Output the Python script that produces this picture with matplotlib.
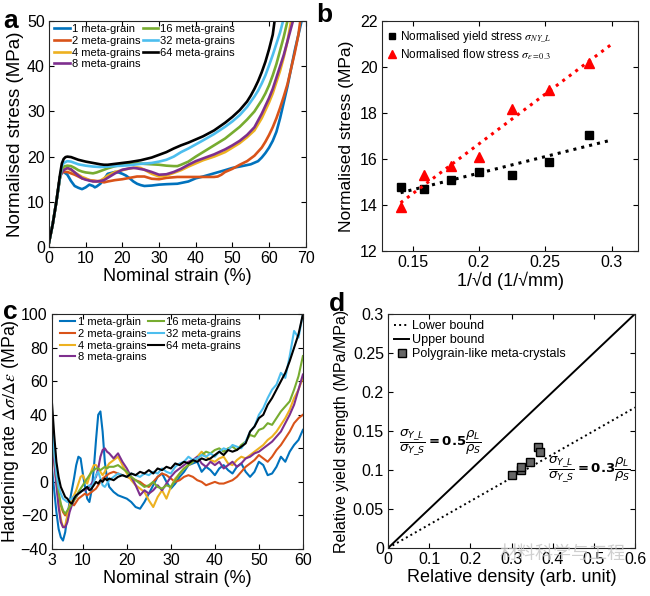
import matplotlib
matplotlib.use("Agg")
import matplotlib.pyplot as plt
import numpy as np

plt.rcParams["font.family"] = ["Liberation Sans", "DejaVu Sans"]
plt.rcParams["mathtext.fontset"] = "stix"

COLORS = ["#0072BD", "#D95319", "#EDB120", "#7E2F8E", "#77AC30", "#4DBEEE", "#000000"]
LABELS = ["1 meta-grain", "2 meta-grains", "4 meta-grains", "8 meta-grains",
          "16 meta-grains", "32 meta-grains", "64 meta-grains"]

# ---- panel a: stress-strain curves ----
a_x_1 = [0, 1, 2, 3, 3.5, 4, 5, 6, 7, 8, 9, 10, 11, 12, 12.5, 13, 14, 15, 16, 17, 18, 19, 20, 21, 22, 23, 24,
         25, 26, 28, 30, 32, 35, 38, 40, 42, 45, 48, 50, 52, 55, 57, 58, 59, 60, 61, 62, 63, 64, 65, 66, 67, 68, 69]
a_y_1 = [1, 5, 10, 15.5, 16.8, 16.6, 16, 14.6, 13.5, 13.1, 12.8, 13.2, 13.8, 13.5, 13.2, 13.4, 14, 15, 16.2, 16.4, 16.6, 16.5, 16.2, 15.8, 15.2, 14.5, 14,
         13.7, 13.5, 13.6, 13.8, 13.9, 14, 14.5, 15.2, 15.6, 16.3, 17, 17.5, 17.8, 18.3, 19, 19.8, 20.8, 22, 23.5, 25.5, 28.5, 32, 35.5, 39.5, 43.5, 47, 50.5]
a_x_2 = [0, 1, 2, 3, 3.5, 4, 5, 6, 7, 8, 9, 10, 11, 12, 13, 14, 15, 16, 18, 20, 22, 24, 26, 28, 30, 32, 35, 38,
         40, 42, 45, 46, 47, 48, 50, 52, 54, 56, 58, 59, 60, 61, 62, 63, 64, 65, 66, 67, 68, 68.5]
a_y_2 = [1, 5, 10, 15.5, 16.5, 16.6, 16.6, 16.3, 16, 15.6, 15.2, 15, 14.8, 14.7, 14.6, 14.5, 14.3, 14.5, 14.8, 15, 15.3, 15.6, 15.6, 15.1, 15, 15.3, 15.5, 15.5,
         15.5, 15.5, 15.5, 15.6, 16, 16.6, 17.3, 18.2, 19, 20.2, 22, 23.3, 24.8, 26.5, 28.5, 30.8, 33.3, 36, 39.5, 43, 47, 50]
a_x_4 = [0, 1, 2, 3, 3.5, 4, 5, 6, 7, 8, 9, 10, 11, 12, 13, 14, 15, 16, 18, 20, 22, 24, 25, 26, 28, 30, 32, 34,
         36, 38, 40, 42, 45, 48, 50, 52, 54, 56, 58, 60, 61, 62, 63, 64, 65, 66]
a_y_4 = [1, 5, 10, 15.5, 17, 17.3, 17.4, 17, 16.5, 16, 15.5, 15.2, 14.8, 14.6, 14.5, 14.7, 15.2, 15.8, 16.6, 17, 17.4, 17.6, 17.5, 17.1, 16.2, 15.6, 15.8, 16.4,
         17, 17.8, 18.5, 19.2, 20, 21, 22, 23, 24.3, 25.8, 28.5, 32, 34, 36.5, 39, 42, 45.5, 50]
a_x_8 = [0, 1, 2, 3, 3.5, 4, 5, 6, 7, 8, 9, 10, 11, 12, 13, 14, 15, 16, 17, 18, 20, 22, 23, 24, 26, 28, 30, 32,
         34, 36, 38, 40, 42, 45, 48, 50, 52, 54, 56, 58, 60, 61, 62, 63, 64, 65, 66, 66.5]
a_y_8 = [1, 5, 10, 15.5, 16.5, 17, 17.5, 17.2, 16.5, 15.8, 15.2, 14.9, 14.7, 14.5, 14.5, 14.6, 14.8, 15.3, 15.8, 16.3, 17.1, 17.4, 17.5, 17.4, 17.1, 16.6, 16, 16.1,
         16.6, 17.3, 18.2, 19, 19.6, 20.5, 21.6, 22.5, 23.5, 24.8, 26.5, 29.5, 33, 35, 37.5, 40, 42.5, 45.5, 48.5, 50]
a_x_16 = [0, 1, 2, 3, 3.5, 4, 5, 6, 7, 8, 9, 10, 11, 12, 13, 14, 15, 16, 18, 20, 22, 24, 26, 28, 30, 32, 34, 35,
          36, 38, 40, 42, 45, 48, 50, 52, 54, 56, 58, 59, 60, 61, 62, 63, 64, 65]
a_y_16 = [1, 5, 10, 15.5, 17.3, 17.8, 18, 17.9, 17.5, 17, 16.7, 16.5, 16.4, 16.3, 16.5, 16.8, 17.1, 17.4, 17.9, 18.2, 18.4, 18.5, 18.4, 18.3, 18.2, 18, 17.9, 17.9,
          18.2, 18.9, 20, 21, 22.5, 24, 25.3, 26.6, 28.2, 30, 32.5, 34, 35.8, 38, 40.5, 43.5, 46.5, 50]
a_x_32 = [0, 1, 2, 3, 3.5, 4, 5, 6, 7, 8, 10, 12, 14, 16, 18, 20, 22, 25, 28, 30, 32, 34, 36, 38, 40,
          42, 45, 48, 50, 52, 54, 56, 57, 58, 59, 60, 61, 62, 63, 63.8]
a_y_32 = [1, 5, 10, 15.5, 17.8, 18.6, 19, 18.9, 18.6, 18.3, 18, 17.8, 17.7, 17.8, 17.9, 18, 18.1, 18.4, 18.6, 18.9, 19.3, 20, 21, 21.8, 22.7,
          23.6, 25, 26.6, 27.8, 29.2, 31, 33.3, 34.6, 36.2, 38, 40.2, 42.5, 45, 47.5, 50]
a_x_64 = [0, 1, 2, 3, 3.5, 4, 4.5, 5, 6, 7, 8, 10, 12, 14, 15, 16, 18, 20, 22, 25, 28, 30, 32, 34, 36, 38, 40,
          42, 45, 48, 50, 52, 54, 55, 56, 57, 58, 59, 60, 61, 61.5]
a_y_64 = [1, 5, 10, 16, 18.5, 19.5, 19.9, 20, 19.9, 19.6, 19.3, 18.9, 18.6, 18.3, 18.2, 18.2, 18.4, 18.6, 18.8, 19.2, 19.8, 20.4, 21, 21.8, 22.5, 23.1, 23.8,
          24.5, 25.8, 27.5, 28.8, 30.3, 32.2, 33.5, 35, 36.7, 38.7, 41, 43.8, 47, 50]

a_x = [a_x_1, a_x_2, a_x_4, a_x_8, a_x_16, a_x_32, a_x_64]
a_y = [a_y_1, a_y_2, a_y_4, a_y_8, a_y_16, a_y_32, a_y_64]

# ---- panel b: stress vs 1/sqrt(d) ----
b_inv_sqrt_d = [0.141, 0.159, 0.179, 0.200, 0.225, 0.253, 0.283]
b_yield = [14.8, 14.7, 15.1, 15.45, 15.3, 15.85, 17.05]
b_flow = [13.9, 15.3, 15.7, 16.1, 18.15, 19.0, 20.15]
b_fit_x = [0.141, 0.3]

# ---- panel c: hardening rate ----
c_strain = [3, 3.5, 4, 4.5, 5, 5.5, 6, 6.5, 7, 7.5, 8, 8.5, 9, 9.5, 10, 10.5, 11, 11.5, 12, 12.5, 13, 13.5,
            14, 14.5, 15, 15.5, 16, 17, 18, 19, 20, 21, 22, 23, 24, 25, 26, 27, 28, 29, 30, 31, 32, 33, 34,
            35, 36, 37, 38, 39, 40, 41, 42, 43, 44, 45, 46, 47, 48, 49, 50, 51, 52, 53, 54, 55, 56, 57, 58, 59, 60]
c_1 = [8, -5, -18, -28, -33, -35, -30, -20, -12, -5, 2, 10, 15, 14, 5, -3, -10, -12, -5, 8, 25, 40,
       42, 30, 12, 2, -3, -6, -8, -9, -10, -12, -15, -16, -12, -7, -2, 3, 5, 0, -4, -1, 3, 6, 10,
       11, 12, 6, 9, 7, 4, 8, 10, 7, 5, 9, 11, 6, 3, 6, 12, 10, 4, 5, 9, 15, 12, 18, 22, 25, 31]
c_2 = [25, 12, 0, -8, -14, -18, -20, -18, -15, -13, -14, -12, -10, -9, -8, -7, -8, -7, -6, -5, -4, -2,
       0, 2, 3, 4, 5, 6, 5, 4, 3, 2, 1, 0, -2, -3, 0, 3, 5, 4, 2, 0, 1, 3, 4,
       3, 1, 0, -2, -1, 0, -1, -1, 0, 1, 3, 6, 9, 11, 13, 16, 14, 12, 15, 19, 22, 26, 30, 35, 38, 40]
c_4 = [30, 15, 0, -12, -22, -27, -26, -20, -14, -10, -8, -5, -1, 3, 4, 1, -1, 3, 7, 10, 10, 8,
       6, 4, 6, 9, 11, 13, 15, 10, 5, 1, -2, -4, -6, -11, -15, -9, -5, -10, -3, 2, 5, 8, 10,
       12, 15, 18, 15, 13, 12, 14, 15, 11, 10, 13, 15, 14, 16, 18, 20, 22, 25, 27, 30, 34, 38, 43, 50, 55, 62]
c_8 = [30, 12, -2, -15, -24, -27, -27, -24, -18, -14, -11, -9, -7, -6, -5, -5, -4, -3, -1, 1, 3, 8,
       15, 19, 20, 18, 17, 14, 17, 12, 8, 3, -2, -8, -5, -7, -5, -2, -5, -1, 3, 6, 8, 10, 12,
       13, 15, 11, 9, 12, 10, 12, 8, 10, 12, 9, 11, 14, 15, 17, 18, 20, 22, 24, 27, 30, 35, 40, 46, 55, 64]
c_16 = [35, 18, 5, -6, -13, -17, -19, -17, -15, -13, -11, -9, -6, -4, -2, 0, 2, 4, 6, 7, 8, 8,
        7, 8, 9, 8, 9, 9, 10, 8, 6, 3, 1, -1, -3, -2, 0, -3, -4, -2, -3, 1, 5, 8, 10,
        12, 14, 16, 18, 17, 19, 20, 18, 20, 21, 19, 22, 24, 28, 27, 31, 32, 35, 34, 38, 42, 45, 48, 55, 63, 75]
c_32 = [40, 18, 5, -3, -7, -10, -11, -12, -11, -10, -9, -8, -7, -6, -5, -4, -3, -2, -3, 0, 4, 6,
        2, -2, -3, -1, 1, 3, 5, 4, 3, 5, 4, 3, 5, 4, 6, 5, 8, 6, 5, 9, 11, 12, 15,
        13, 14, 16, 15, 17, 15, 18, 20, 19, 22, 21, 20, 24, 30, 33, 40, 44, 50, 55, 58, 65, 62, 75, 90, 86, 100]
c_64 = [47, 28, 12, 3, -3, -6, -9, -10, -12, -13, -10, -8, -7, -6, -5, -4, -3, -5, -4, -2, 0, -1,
        1, 0, 2, 1, 2, 1, 3, 4, 3, 5, 4, 6, 5, 7, 5, 8, 7, 9, 8, 11, 10, 12, 11,
        13, 12, 14, 13, 14, 16, 18, 16, 19, 18, 19, 21, 23, 30, 33, 38, 40, 46, 50, 55, 60, 65, 72, 80, 88, 100]
c_y = [c_1, c_2, c_4, c_8, c_16, c_32, c_64]

# ---- panel d: relative yield strength ----
d_density_bound = [0, 0.6]
d_upper = [0, 0.3]
d_lower = [0, 0.18]
d_density = [0.302, 0.322, 0.323, 0.345, 0.364, 0.370]
d_strength = [0.093, 0.100, 0.1035, 0.110, 0.130, 0.1225]

fig = plt.figure(figsize=(6.5, 5.96), dpi=100)
ax_a = fig.add_axes([0.0754, 0.5856, 0.395, 0.379])
ax_b = fig.add_axes([0.5877, 0.5789, 0.394, 0.386])
ax_c = fig.add_axes([0.080, 0.0789, 0.386, 0.394])
ax_d = fig.add_axes([0.597, 0.0805, 0.380, 0.393])

TICK = 11.5
LAB = 13


def style(ax):
    ax.tick_params(direction="in", top=True, right=True, length=3.5, width=0.8, labelsize=TICK, pad=3)
    for s in ax.spines.values():
        s.set_linewidth(0.8)
        s.set_color("#262626")


# a
for xs, ys, c, lab in zip(a_x, a_y, COLORS, LABELS):
    ax_a.plot(xs, ys, color=c, lw=1.9, label=lab)
ax_a.set_xlim(0, 70)
ax_a.set_ylim(0, 50)
ax_a.set_xticks(range(0, 71, 10))
ax_a.set_yticks(range(0, 51, 10))
ax_a.set_xlabel("Nominal strain (%)", fontsize=LAB, labelpad=1)
ax_a.set_ylabel("Normalised stress (MPa)", fontsize=13.5, labelpad=2)
style(ax_a)
ax_a.legend(ncol=2, loc="upper left", bbox_to_anchor=(-0.01, 1.02), frameon=False, fontsize=8,
            handlelength=1.4, handletextpad=0.2, columnspacing=0.2, labelspacing=0.15, borderaxespad=0.3)

# b
ax_b.plot(b_inv_sqrt_d, b_yield, "s", color="black", ms=5.5, label=r"Normalised yield stress $\sigma_{NY\_L}$")
ax_b.plot(b_inv_sqrt_d, b_flow, "^", color="red", ms=6.5, label=r"Normalised flow stress $\sigma_{\epsilon=0.3}$")
k1, c1 = np.polyfit(b_inv_sqrt_d, b_yield, 1)
k2, c2 = np.polyfit(b_inv_sqrt_d, b_flow, 1)
fx = np.array(b_fit_x)
ax_b.plot(fx, k1 * fx + c1, ":", color="black", lw=2.2)
ax_b.plot(fx, k2 * fx + c2, ":", color="red", lw=2.2)
ax_b.set_xlim(0.127, 0.32)
ax_b.set_ylim(12, 22)
ax_b.set_xticks([0.15, 0.2, 0.25, 0.3])
ax_b.set_xticklabels(["0.15", "0.2", "0.25", "0.3"])
ax_b.set_yticks(range(12, 23, 2))
ax_b.set_xlabel("1/\u221ad (1/\u221amm)", fontsize=LAB, labelpad=1)
ax_b.set_ylabel("Normalised stress (MPa)", fontsize=12.5, labelpad=4)
style(ax_b)
ax_b.legend(loc="upper left", frameon=False, fontsize=8.5, handlelength=0.8, handletextpad=0.2,
            labelspacing=0.2, borderaxespad=0.3, bbox_to_anchor=(-0.01, 1.0), markerscale=0.9)

# c
for ys, c, lab in zip(c_y, COLORS, LABELS):
    ax_c.plot(c_strain, ys, color=c, lw=1.5, label=lab)
ax_c.set_xlim(3, 60)
ax_c.set_ylim(-40, 100)
ax_c.set_xticks([3, 10, 20, 30, 40, 50, 60])
ax_c.set_yticks(range(-40, 101, 20))
ax_c.set_xlabel("Nominal strain (%)", fontsize=LAB, labelpad=1)
ax_c.set_ylabel(r"Hardening rate $\Delta\sigma/\Delta\epsilon$ (MPa)", fontsize=12.8, labelpad=0)
style(ax_c)
ax_c.legend(ncol=2, loc="upper left", bbox_to_anchor=(0.0, 1.02), frameon=False, fontsize=8,
            handlelength=1.4, handletextpad=0.2, columnspacing=0.2, labelspacing=0.15, borderaxespad=0.3)

# d
ax_d.plot(d_density_bound, d_lower, ":", color="black", lw=1.4, label="Lower bound")
ax_d.plot(d_density_bound, d_upper, "-", color="black", lw=1.4, label="Upper bound")
ax_d.plot(d_density, d_strength, "s", mfc="#666666", mec="black", mew=1.0, ms=6, ls="none",
          label="Polygrain-like meta-crystals")
ax_d.set_xlim(0, 0.6)
ax_d.set_ylim(0, 0.3)
ax_d.set_xticks([0, 0.1, 0.2, 0.3, 0.4, 0.5, 0.6])
ax_d.set_xticklabels(["0", "0.1", "0.2", "0.3", "0.4", "0.5", "0.6"])
ax_d.set_yticks([0, 0.05, 0.1, 0.15, 0.2, 0.25, 0.3])
ax_d.set_yticklabels(["0", "0.05", "0.1", "0.15", "0.2", "0.25", "0.3"])
ax_d.set_xlabel("Relative density (arb. unit)", fontsize=LAB, labelpad=1)
ax_d.set_ylabel("Relative yield strength (MPa/MPa)", fontsize=11.5, labelpad=3)
style(ax_d)
ax_d.legend(loc="upper left", frameon=False, fontsize=9, handlelength=1.2, handletextpad=0.2,
            labelspacing=0.15, borderaxespad=0.3, bbox_to_anchor=(-0.01, 1.01))
eq_upper = r"$\boldsymbol{\dfrac{\sigma_{Y\_L}}{\sigma_{Y\_S}}=0.5\dfrac{\rho_L}{\rho_S}}$"
eq_lower = r"$\boldsymbol{\dfrac{\sigma_{Y\_L}}{\sigma_{Y\_S}}=0.3\dfrac{\rho_L}{\rho_S}}$"
ax_d.text(0.127, 0.135, eq_upper, fontsize=9.5, ha="center", va="center", math_fontfamily="dejavusans")
ax_d.text(0.49, 0.10, eq_lower, fontsize=9.5, ha="center", va="center", math_fontfamily="dejavusans")

# panel letters
for lbl, x, y in [("a", 0.005, 0.985), ("b", 0.487, 0.995), ("c", 0.005, 0.497), ("d", 0.506, 0.51)]:
    fig.text(x, y, lbl, fontsize=19, fontweight="bold", ha="left", va="top")

# watermark (as in the reference)
fig.text(0.865, 0.07, "材料科学与工程", fontsize=13, color="#c4c4c4", alpha=0.8, ha="center", va="center",
         family=["Noto Sans CJK SC", "DejaVu Sans"])

fig.savefig("out.png", dpi=100)
